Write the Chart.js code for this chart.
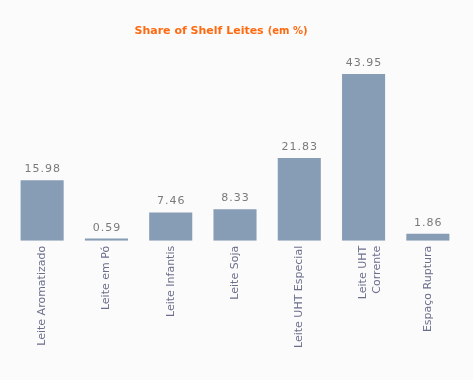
<!DOCTYPE html>
<html>
<head>
<meta charset="utf-8">
<script src="https://cdn.jsdelivr.net/npm/chart.js@4/dist/chart.umd.min.js"></script>
<style>
html,body{margin:0;padding:0;background:#fbfbfb;}
#wrap{width:473px;height:380px;position:relative;}
</style>
</head>
<body>
<div id="wrap"><canvas id="c" width="473" height="380"></canvas></div>
<script>
const categories = ["Leite Aromatizado", "Leite em Pó", "Leite Infantis", "Leite Soja", "Leite UHT Especial", ["Leite UHT", "Corrente"], "Espaço Ruptura"];
const shareValues = [15.98, 0.59, 7.46, 8.33, 21.83, 43.95, 1.86];
const valueLabels = ["15.98", "0.59", "7.46", "8.33", "21.83", "43.95", "1.86"];
const titleMain = "Share of Shelf Leites";
const titleSub = "(em %)";

const titlePlugin = {
  id: 'customTitle',
  afterDraw(chart) {
    const ctx = chart.ctx;
    ctx.save();
    ctx.fillStyle = '#ff6a10';
    ctx.textBaseline = 'alphabetic';
    ctx.font = 'bold 11px "DejaVu Sans"';
    const w1 = ctx.measureText(titleMain).width;
    ctx.font = 'bold 10px "DejaVu Sans"';
    const w2 = ctx.measureText(titleSub).width;
    const total = w1 + 4 + w2;
    const x0 = 221 - total / 2;
    ctx.font = 'bold 11px "DejaVu Sans"';
    ctx.fillText(titleMain, x0, 34);
    ctx.font = 'bold 10px "DejaVu Sans"';
    ctx.fillText(titleSub, x0 + w1 + 4, 34);
    ctx.restore();
  }
};

const valuePlugin = {
  id: 'valueLabels',
  afterDatasetsDraw(chart) {
    const ctx = chart.ctx;
    const meta = chart.getDatasetMeta(0);
    ctx.save();
    ctx.fillStyle = '#7a7a7a';
    ctx.font = '11px "DejaVu Sans"';
    ctx.letterSpacing = '1px';
    ctx.textAlign = 'center';
    ctx.textBaseline = 'alphabetic';
    meta.data.forEach((bar, i) => {
      ctx.fillText(valueLabels[i], bar.x + 0.5, bar.y - 8);
    });
    ctx.restore();
  }
};

new Chart(document.getElementById('c'), {
  type: 'bar',
  data: {
    labels: categories,
    datasets: [{
      data: shareValues,
      backgroundColor: '#879cb5',
      borderWidth: 0,
      barPercentage: 0.67,
      categoryPercentage: 1.0
    }]
  },
  options: {
    responsive: false,
    animation: false,
    devicePixelRatio: 1,
    layout: { padding: { left: 10, right: 13, top: 51, bottom: 27 } },
    plugins: { legend: { display: false }, tooltip: { enabled: false }, title: { display: false } },
    scales: {
      x: {
        grid: { display: false, drawTicks: false },
        border: { display: false },
        ticks: {
          minRotation: 90, maxRotation: 90, autoSkip: false,
          padding: 5,
          color: '#6b6f8c',
          font: { family: '"DejaVu Sans"', size: 11 }
        }
      },
      y: { display: false, min: 0, max: 50 }
    }
  },
  plugins: [titlePlugin, valuePlugin]
});
</script>
</body>
</html>
